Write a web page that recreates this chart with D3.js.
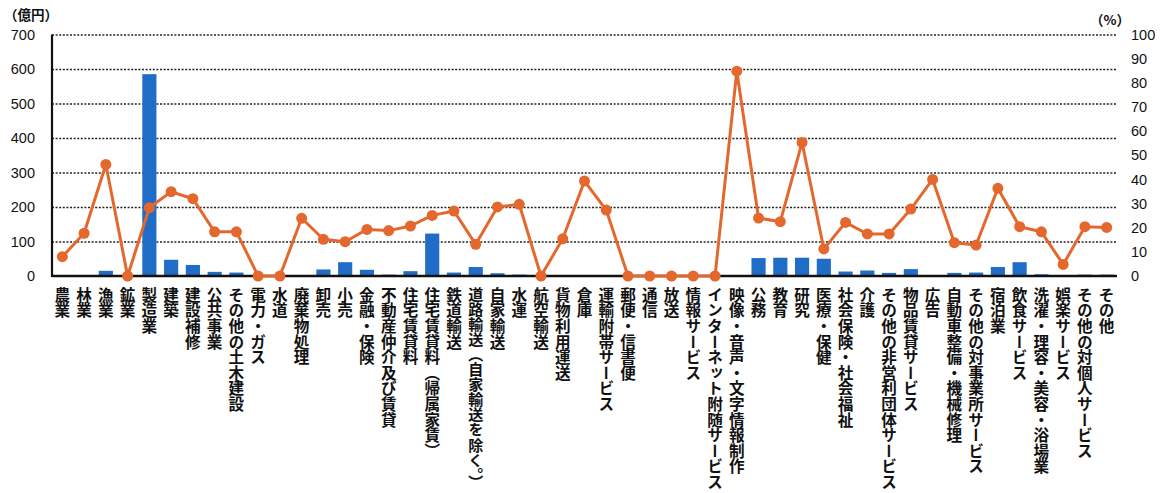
<!DOCTYPE html>
<html><head><meta charset="utf-8">
<script src="https://cdn.jsdelivr.net/npm/d3@7"></script>
<style>
html,body{margin:0;padding:0;background:#fff;}
svg{display:block;}
</style></head>
<body>
<svg id="chart" width="1167" height="493"></svg>
<script>
const categories = ["農業","林業","漁業","鉱業","製造業","建築","建設補修","公共事業","その他の土木建設","電力・ガス","水道","廃棄物処理","卸売","小売","金融・保険","不動産仲介及び賃貸","住宅賃貸料","住宅賃貸料（帰属家賃）","鉄道輸送","道路輸送（自家輸送を除く。）","自家輸送","水運","航空輸送","貨物利用運送","倉庫","運輸附帯サービス","郵便・信書便","通信","放送","情報サービス","インターネット附随サービス","映像・音声・文字情報制作","公務","教育","研究","医療・保健","社会保険・社会福祉","介護","その他の非営利団体サービス","物品賃貸サービス","広告","自動車整備・機械修理","その他の対事業所サービス","宿泊業","飲食サービス","洗濯・理容・美容・浴場業","娯楽サービス","その他の対個人サービス","その他"];
const amounts = [0,0,15,0,585,47,32,12,10,0,0,1,19,40,18,4,14,123,10,26,8,4,0,0,2,2,0,0,0,0,0,1,52,53,53,50,13,16,9,20,0,9,10,26,40,5,0,4,4];
const percents = [8,17.7,46.2,0,28.3,34.9,32,18.3,18.3,0,0,23.9,15.2,14.2,19.3,18.8,20.7,25.1,26.9,13.1,28.6,29.7,0,15.4,39.3,27.3,0,0,0,0,0,84.8,24,22.5,55.3,11.2,22.2,17.4,17.4,27.7,40,13.8,12.8,36.3,20.4,18.3,4.8,20.4,20.1];
const leftTicks = [0,100,200,300,400,500,600,700];
const rightTicks = [0,10,20,30,40,50,60,70,80,90,100];
const leftUnit = "（億円）";
const rightUnit = "（%）";

const svg = d3.select("#chart");
const X0 = 52, X1 = 1117, Y0 = 276, Ytop = 34.5;
const x = d3.scaleBand().domain(categories).range([X0, X1]).paddingInner(0.35).paddingOuter(0.15);
const yL = d3.scaleLinear().domain([0,700]).range([Y0, Ytop]);
const yR = d3.scaleLinear().domain([0,100]).range([Y0, Ytop]);
const numFont = "'Liberation Sans', Arial, sans-serif";
const jpFont = "'Noto Sans CJK JP', sans-serif";

// gridlines
const grid = svg.append("g").attr("transform", `translate(${X0},0)`)
  .call(d3.axisLeft(yL).tickValues(leftTicks.filter(d=>d>0)).tickSize(-(X1-X0)).tickFormat(""));
grid.select(".domain").remove();
grid.selectAll("line").attr("stroke","#222").attr("stroke-width",1.7).attr("stroke-dasharray","2,1.6");

// left axis labels
const ax = svg.append("g").attr("transform", `translate(35,0)`)
  .call(d3.axisLeft(yL).tickValues(leftTicks).tickSize(0).tickPadding(0));
ax.select(".domain").remove();
ax.selectAll("text").attr("font-family", numFont).attr("font-size", 14.5).attr("fill","#111");

// right axis labels
const ar = svg.append("g").attr("transform", `translate(1131,0)`)
  .call(d3.axisRight(yR).tickValues(rightTicks).tickSize(0).tickPadding(0));
ar.select(".domain").remove();
ar.selectAll("text").attr("font-family", numFont).attr("font-size", 14.5).attr("fill","#111");

// units
svg.append("text").attr("x", 4).attr("y", 20).text(leftUnit)
  .attr("font-family", jpFont).attr("font-weight", 700).attr("font-size", 13.5).attr("fill","#111");
svg.append("text").attr("x", 1090).attr("y", 25).text(rightUnit)
  .attr("font-family", jpFont).attr("font-weight", 700).attr("font-size", 13.5).attr("fill","#111");

// bars
svg.append("g").selectAll("rect").data(categories).join("rect")
  .attr("x", d => x(d))
  .attr("width", x.bandwidth())
  .attr("y", (d,i) => yL(amounts[i]))
  .attr("height", (d,i) => Y0 - yL(amounts[i]))
  .attr("fill", "#1f6dc6");

// axis lines
svg.append("line").attr("x1", X0).attr("x2", X0).attr("y1", yL(700)).attr("y2", Y0+1)
  .attr("stroke","#111").attr("stroke-width",2.2);
svg.append("line").attr("x1", X0).attr("x2", X1).attr("y1", Y0).attr("y2", Y0)
  .attr("stroke","#111").attr("stroke-width",2.6);

// line + dots
const cx = d => x(d) + x.bandwidth()/2;
const line = d3.line().x((d,i) => cx(categories[i])).y(d => yR(d));
svg.append("path").datum(percents).attr("d", line)
  .attr("fill","none").attr("stroke","#e4682d").attr("stroke-width",3).attr("stroke-linejoin","round");
svg.append("g").selectAll("circle").data(percents).join("circle")
  .attr("cx", (d,i) => cx(categories[i])).attr("cy", d => yR(d)).attr("r", 5.5)
  .attr("fill","#e4682d");

// category labels (vertical), shrunk only if they would run past the bottom edge
const labelTop = 287, labelMax = 493 - labelTop - 3, labelSize = 15.6;
svg.append("g").selectAll("text").data(categories).join("text")
  .attr("x", d => cx(d)).attr("y", labelTop)
  .attr("font-family", jpFont).attr("font-weight", 700).attr("font-size", labelSize).attr("fill","#111")
  .style("writing-mode","vertical-rl")
  .text(d => d)
  .each(function(){
    const len = this.getComputedTextLength();
    if (len > labelMax) d3.select(this).attr("font-size", labelSize * labelMax / len);
  });
</script>
</body></html>
